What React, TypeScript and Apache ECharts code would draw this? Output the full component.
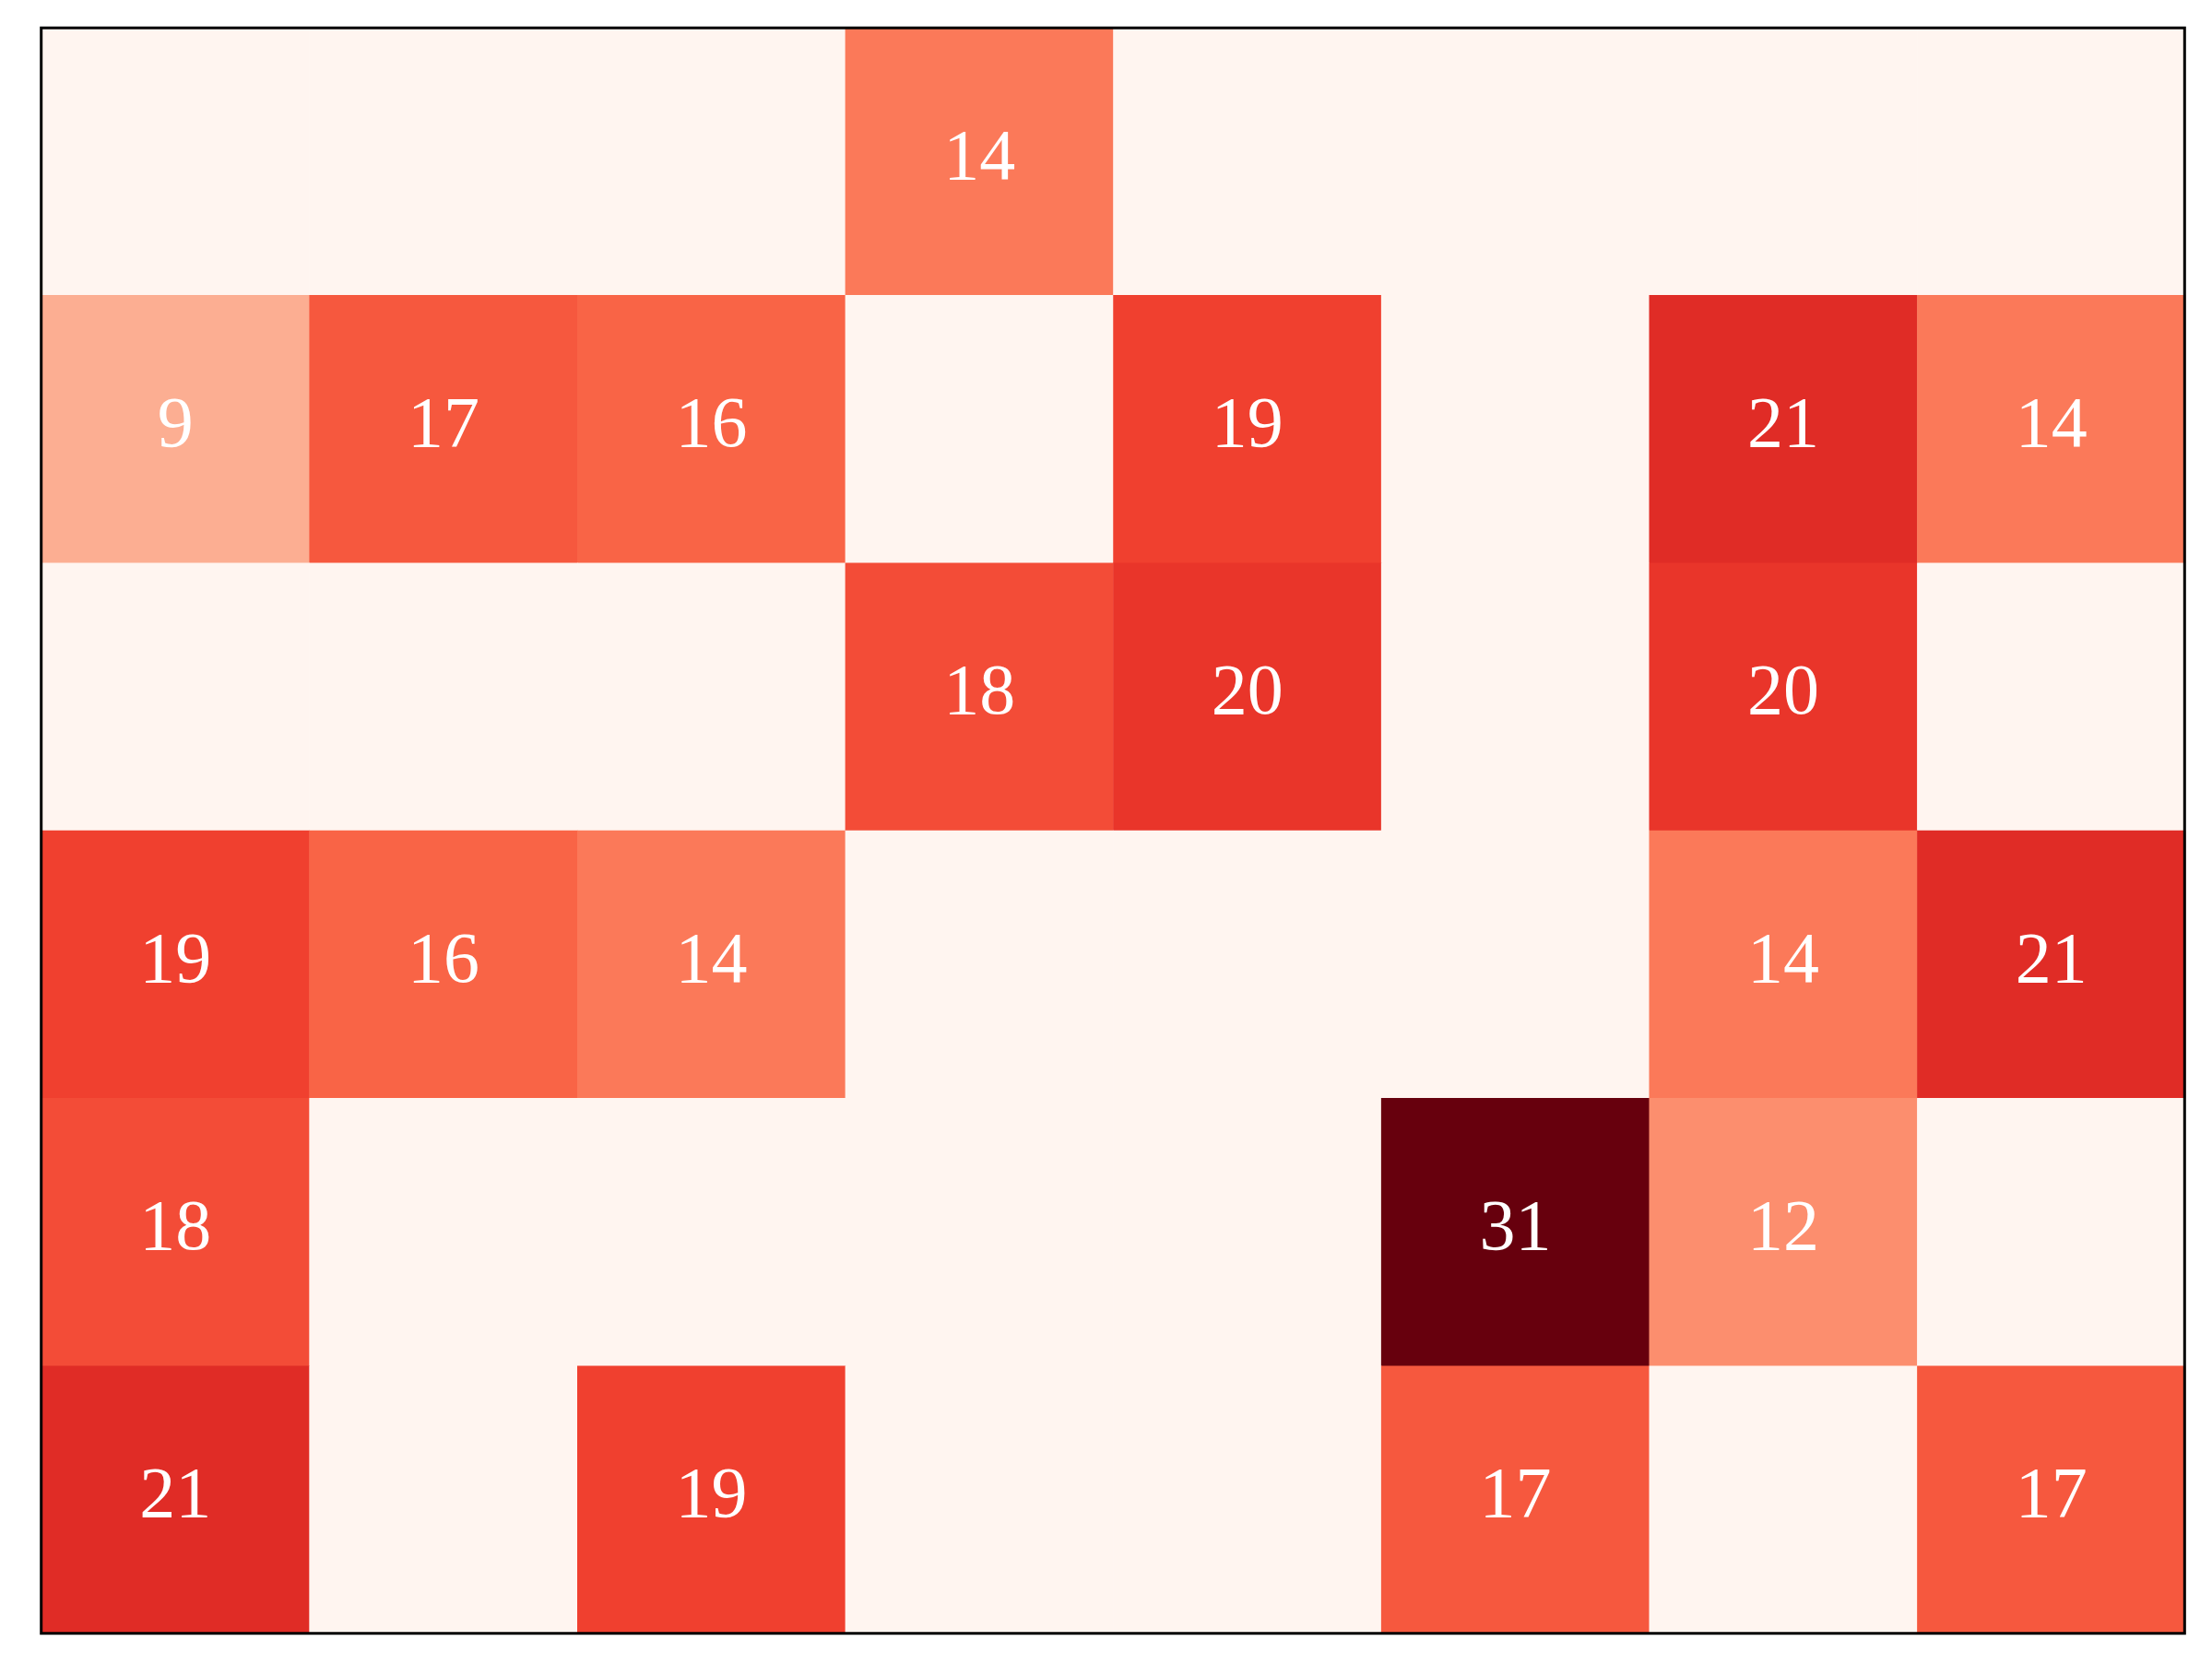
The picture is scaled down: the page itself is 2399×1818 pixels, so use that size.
import React, { useEffect, useRef } from "react";
import * as echarts from "echarts";

const xCategories = ["C1", "C2", "C3", "C4", "C5", "C6", "C7", "C8"];
const yCategories = ["R1", "R2", "R3", "R4", "R5", "R6"];

const row1 = [0, 0, 0, 14, 0, 0, 0, 0];
const row2 = [9, 17, 16, 0, 19, 0, 21, 14];
const row3 = [0, 0, 0, 18, 20, 0, 20, 0];
const row4 = [19, 16, 14, 0, 0, 0, 14, 21];
const row5 = [18, 0, 0, 0, 0, 31, 12, 0];
const row6 = [21, 0, 19, 0, 0, 17, 0, 17];
const rows = [row1, row2, row3, row4, row5, row6];

const redsPalette = [
  "#fff5f0", "#fee0d2", "#fcbba1", "#fc9272", "#fb6a4a",
  "#ef3b2c", "#cb181d", "#a50f15", "#67000d",
];

export default function App() {
  const ref = useRef<HTMLDivElement>(null);
  useEffect(() => {
    document.body.style.margin = "0";
    const chart = echarts.init(ref.current!, null, { renderer: "svg" });
    const data: any[] = [];
    rows.forEach((r, yi) =>
      r.forEach((v, xi) => {
        data.push({ value: [xi, yi, v], label: { show: v > 0 } });
      })
    );
    const maxV = Math.max(...rows.flat());
    chart.setOption({
      animation: false,
      backgroundColor: "#ffffff",
      grid: { left: 45, top: 30, width: 2325, height: 1742, show: false },
      xAxis: {
        type: "category",
        data: xCategories,
        axisLine: { show: false },
        axisTick: { show: false },
        axisLabel: { show: false },
        splitLine: { show: false },
      },
      yAxis: {
        type: "category",
        data: yCategories,
        inverse: true,
        axisLine: { show: false },
        axisTick: { show: false },
        axisLabel: { show: false },
        splitLine: { show: false },
      },
      visualMap: {
        show: false,
        min: 0,
        max: maxV,
        dimension: 2,
        inRange: { color: redsPalette },
      },
      series: [
        {
          type: "heatmap",
          data,
          itemStyle: { borderWidth: 0 },
          label: {
            show: true,
            color: "#ffffff",
            fontFamily: "'Liberation Serif', 'Times New Roman', Times, serif",
            fontSize: 78,
            offset: [0, -8],
            formatter: (p: any) => String(p.value[2]),
          },
          emphasis: { disabled: true },
        },
      ],
      graphic: [
        {
          type: "rect",
          z: 100,
          shape: { x: 44.7, y: 30.3, width: 2324.6, height: 1741.4 },
          style: { fill: "none", stroke: "#000000", lineWidth: 3 },
        },
      ],
    });
    return () => chart.dispose();
  }, []);
  return <div ref={ref} style={{ width: 2399, height: 1818 }} />;
}
